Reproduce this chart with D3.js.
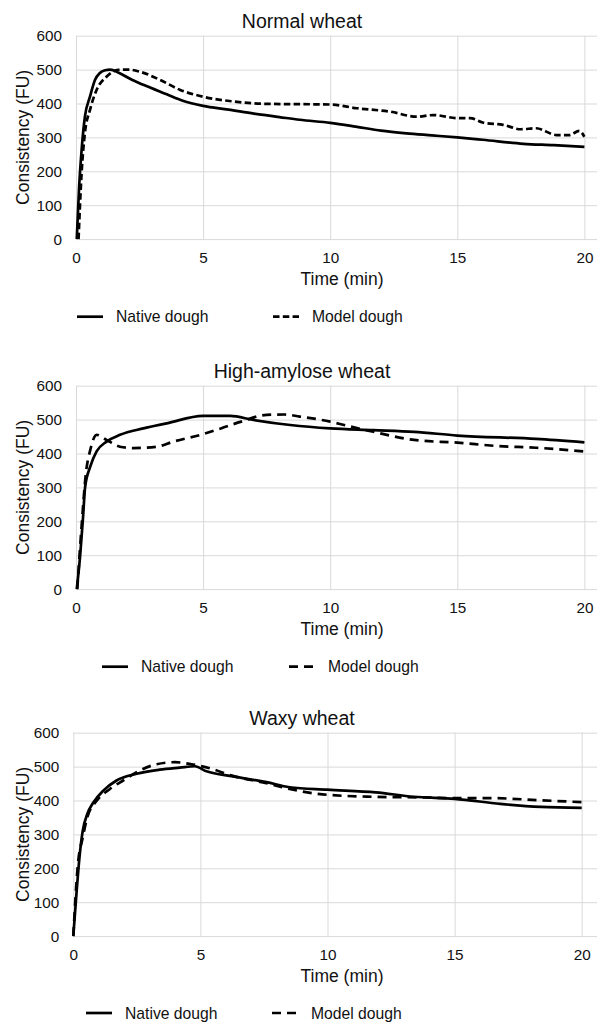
<!DOCTYPE html>
<html>
<head>
<meta charset="utf-8">
<script src="https://cdn.jsdelivr.net/npm/d3@7"></script>
<style>
  body { margin: 0; background: #fff; }
  text { font-family: Arial, "Liberation Sans", sans-serif; fill: #111; }
</style>
</head>
<body>
<svg id="root" width="597" height="1022"></svg>
<script>
// Farinograph curves, [time (min), consistency (FU)]
const normalNative = [[0.03,0],[0.12,150],[0.22,262],[0.35,361],[0.55,420],[0.75,470],[0.94,490],[1.15,498],[1.34,500],[1.7,490],[2.2,470],[2.65,455],[3.57,427],[4.2,408],[5,393],[6,382],[7,370],[8,360],[8.8,352],[10,343],[11,332],[12,320],[13,312],[14,306],[15,300],[16,293],[17.6,281],[18.8,277],[20,272]]
const normalModel = [[0.1,0],[0.22,195],[0.35,313],[0.55,381],[0.81,440],[1.2,479],[1.66,499],[2.05,500],[2.5,494],[3.3,470],[4.1,440],[5,420],[6.2,406],[7.5,399],[8.8,398],[10,397],[11.05,386],[12.36,376],[13.4,361],[14.07,366],[15,357],[15.5,357],[16,344],[16.8,337],[17.5,324],[18.1,327],[18.9,307],[19.4,307],[19.8,319],[20,302]]

const amyloseNative = [[0.03,0],[0.16,96],[0.27,204],[0.36,302],[0.56,361],[0.81,406],[1.2,435],[1.73,455],[2.65,474],[3.57,489],[5,511],[6.06,511],[6.98,499],[8.43,484],[10,474],[11.7,469],[13.3,464],[15,453],[18.1,443],[20,433]]
const amyloseModel = [[0.05,0],[0.22,185],[0.39,342],[0.56,410],[0.81,455],[1.2,440],[1.73,420],[2.26,416],[3.17,420],[3.83,435],[4.9,455],[5.7,474],[6.5,494],[7.5,514],[8.2,515],[8.8,509],[10,494],[10.55,484],[11.7,464],[13.3,440],[15,432],[16.6,422],[18.1,417],[20,406]]

const waxyNative = [[0,0],[0.13,131],[0.24,230],[0.37,310],[0.55,360],[0.79,394],[1.18,429],[1.7,459],[2.49,479],[3.4,491],[4.19,497],[4.78,501],[5.24,486],[6.29,471],[7.6,454],[8.51,439],[10,432],[11.9,424],[13.4,411],[15,405],[16.8,390],[18.4,381],[20,378]]
const waxyModel = [[0,0],[0.18,211],[0.37,290],[0.55,350],[0.92,399],[1.44,434],[1.96,459],[2.62,489],[3.28,507],[4,513],[4.65,507],[5.42,494],[6.2,474],[7.6,451],[8.51,434],[9.8,418],[11.8,411],[13.8,409],[15,407],[16.4,407],[18.3,401],[20,395]]

const titles = ["Normal wheat", "High-amylose wheat", "Waxy wheat"]
const seriesNames = ["Native dough", "Model dough"]
const xTicks = [0, 5, 10, 15, 20]
const yTicks = [0, 100, 200, 300, 400, 500, 600]

const svg = d3.select("#root")

// layout of the three stacked charts
const panels = [
  { top: 35.7, x0: 76, native: normalNative, model: normalModel, dash: "6.5,3.3",
    legend: { y: 316.7, solidX: 77, modelX: 273 } },
  { top: 385.7, x0: 76, native: amyloseNative, model: amyloseModel, dash: "9,6",
    legend: { y: 666.7, solidX: 102, modelX: 289 } },
  { top: 732.7, x0: 73.3, native: waxyNative, model: waxyModel, dash: "9,6",
    legend: { y: 1013, solidX: 86, modelX: 272 } }
]

const plotH = 203.4
const pxPerMin = 25.42

panels.forEach((p, i) => {
  const g = svg.append("g").attr("transform", `translate(${p.x0},${p.top})`)
  const width = 597 - p.x0
  const xScale = d3.scaleLinear([0, width / pxPerMin], [0, width])
  const yScale = d3.scaleLinear([0, 600], [plotH, 0])

  // gridlines
  g.append("g")
    .call(d3.axisLeft(yScale).tickValues(yTicks).tickSize(-width).tickFormat(""))
    .call(a => a.select(".domain").remove())
    .call(a => a.selectAll("line").attr("stroke", "#d9d9d9"))
  g.append("g")
    .attr("transform", `translate(0,${plotH})`)
    .call(d3.axisBottom(xScale).tickValues(xTicks).tickSize(-plotH).tickFormat(""))
    .call(a => a.select(".domain").remove())
    .call(a => a.selectAll("line").attr("stroke", "#d9d9d9"))

  // tick labels
  g.append("g")
    .call(d3.axisLeft(yScale).tickValues(yTicks).tickSize(0).tickPadding(14))
    .call(a => a.select(".domain").remove())
    .call(a => a.selectAll("text").attr("font-size", 15.3).attr("font-family", null).attr("fill", "#111"))
  g.append("g")
    .attr("transform", `translate(0,${plotH})`)
    .call(d3.axisBottom(xScale).tickValues(xTicks).tickSize(0).tickPadding(13))
    .call(a => a.select(".domain").remove())
    .call(a => a.selectAll("text").attr("font-size", 15.3).attr("font-family", null).attr("fill", "#111"))

  // titles
  svg.append("text")
    .attr("x", 302).attr("y", p.top - 8)
    .attr("text-anchor", "middle")
    .attr("font-size", 19.5)
    .text(titles[i])
  svg.append("text")
    .attr("x", 342).attr("y", p.top + plotH + 46)
    .attr("text-anchor", "middle")
    .attr("font-size", 17.5)
    .text("Time (min)")
  svg.append("text")
    .attr("transform", `translate(28.5,${p.top + plotH / 2}) rotate(-90)`)
    .attr("text-anchor", "middle")
    .attr("font-size", 17.5)
    .text("Consistency (FU)")

  // curves
  const line = d3.line()
    .x(d => xScale(d[0]))
    .y(d => yScale(d[1]))
    .curve(d3.curveMonotoneX)
  g.append("path")
    .datum(p.native)
    .attr("fill", "none")
    .attr("stroke", "#000")
    .attr("stroke-width", 2.7)
    .attr("stroke-linejoin", "round")
    .attr("d", line)
  g.append("path")
    .datum(p.model)
    .attr("fill", "none")
    .attr("stroke", "#000")
    .attr("stroke-width", 2.7)
    .attr("stroke-dasharray", p.dash)
    .attr("d", line)

  // legend
  const lg = svg.append("g")
  lg.append("line")
    .attr("x1", p.legend.solidX).attr("x2", p.legend.solidX + 26)
    .attr("y1", p.legend.y).attr("y2", p.legend.y)
    .attr("stroke", "#000").attr("stroke-width", 2.7)
  lg.append("text")
    .attr("x", p.legend.solidX + 39).attr("y", p.legend.y + 5.5)
    .attr("font-size", 15.7)
    .text(seriesNames[0])
  lg.append("line")
    .attr("x1", p.legend.modelX).attr("x2", p.legend.modelX + 26)
    .attr("y1", p.legend.y).attr("y2", p.legend.y)
    .attr("stroke", "#000").attr("stroke-width", 2.7)
    .attr("stroke-dasharray", p.dash)
  lg.append("text")
    .attr("x", p.legend.modelX + 39).attr("y", p.legend.y + 5.5)
    .attr("font-size", 15.7)
    .text(seriesNames[1])
})
</script>
</body>
</html>
